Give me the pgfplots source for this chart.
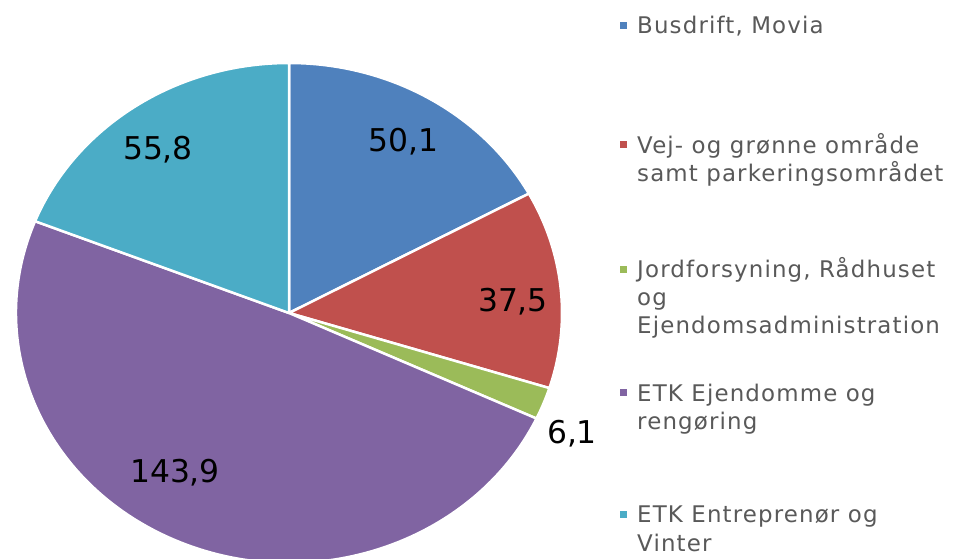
\documentclass[border=0pt]{standalone}
\usepackage{fontspec}
\setmainfont{DejaVu Sans}
\newfontfamily\legendfont[LetterSpace=5]{DejaVu Sans}
\usepackage{pgfplots}
\usepackage{pgfplotstable}
\pgfplotsset{compat=1.18}

\definecolor{cBlue}{HTML}{4F81BD}
\definecolor{cRed}{HTML}{C0504D}
\definecolor{cGreen}{HTML}{9BBB59}
\definecolor{cPurple}{HTML}{8064A2}
\definecolor{cTeal}{HTML}{4BACC6}
\definecolor{legendgrey}{HTML}{595959}

% slice values, clockwise from 12 o'clock
\pgfplotstableread{
value
50.1
37.5
6.1
143.9
55.8
}\piedata

\pgfplotstablegetelem{0}{value}\of\piedata\let\vA\pgfplotsretval
\pgfplotstablegetelem{1}{value}\of\piedata\let\vB\pgfplotsretval
\pgfplotstablegetelem{2}{value}\of\piedata\let\vC\pgfplotsretval
\pgfplotstablegetelem{3}{value}\of\piedata\let\vD\pgfplotsretval
\pgfplotstablegetelem{4}{value}\of\piedata\let\vE\pgfplotsretval
\pgfmathsetmacro\total{\vA+\vB+\vC+\vD+\vE}
\pgfmathsetmacro\aA{90}
\pgfmathsetmacro\aB{\aA-\vA/\total*360}
\pgfmathsetmacro\aC{\aB-\vB/\total*360}
\pgfmathsetmacro\aD{\aC-\vC/\total*360}
\pgfmathsetmacro\aE{\aD-\vD/\total*360}
\pgfmathsetmacro\aF{\aE-\vE/\total*360}

% pie is an Excel circle stretched wider than tall
\newcommand\sector[3]{%
  \filldraw[fill=#1,draw=white,line width=2.5bp,line join=round]
    (axis cs:289,246) -- (axis cs:{289+273*cos(#2)},{246+250*sin(#2)})
    arc[start angle=#2,end angle=#3,x radius=273bp,y radius=250bp] -- cycle;}
\newcommand\legline[2]{%
  \node[anchor=base west,inner sep=0pt,text=legendgrey,
    font=\legendfont\fontsize{23}{28}\selectfont] at (axis cs:637,#1) {#2};}
\newcommand\legbox[2]{%
  \fill[#1] (axis cs:620,{#2-3.5}) rectangle (axis cs:627,{#2+3.5});}

\begin{document}
\begin{tikzpicture}
\begin{axis}[scale only axis,width=953bp,height=559bp,
  xmin=0,xmax=953,ymin=0,ymax=559,hide axis]
\sector{cBlue}{\aA}{\aB}
\sector{cRed}{\aB}{\aC}
\sector{cGreen}{\aC}{\aD}
\sector{cPurple}{\aD}{\aE}
\sector{cTeal}{\aE}{\aF}

\begin{scope}[every node/.style={anchor=base,inner sep=0pt,
    font=\fontsize{31.5}{36}\selectfont}]
\node at (axis cs:403.5,407.3) {50,1};
\node at (axis cs:513,247.3) {37,5};
\node at (axis cs:572,115) {6,1};
\node at (axis cs:175,76.3) {143,9};
\node at (axis cs:158,399.7) {55,8};
\end{scope}

\legbox{cBlue}{533.5}
\legline{525}{Busdrift, Movia}
\legbox{cRed}{414}
\legline{405.5}{Vej- og grønne område}
\legline{377.5}{samt parkeringsområdet}
\legbox{cGreen}{289.5}
\legline{281}{Jordforsyning, Rådhuset}
\legline{253}{og}
\legline{225}{Ejendomsadministration}
\legbox{cPurple}{166}
\legline{157.5}{ETK Ejendomme og}
\legline{129.5}{rengøring}
\legbox{cTeal}{44.5}
\legline{36}{ETK Entreprenør og}
\legline{8}{Vinter}
\end{axis}
\pgfresetboundingbox
\path[use as bounding box] (current axis.south west) rectangle (current axis.north east);
\end{tikzpicture}
\end{document}
